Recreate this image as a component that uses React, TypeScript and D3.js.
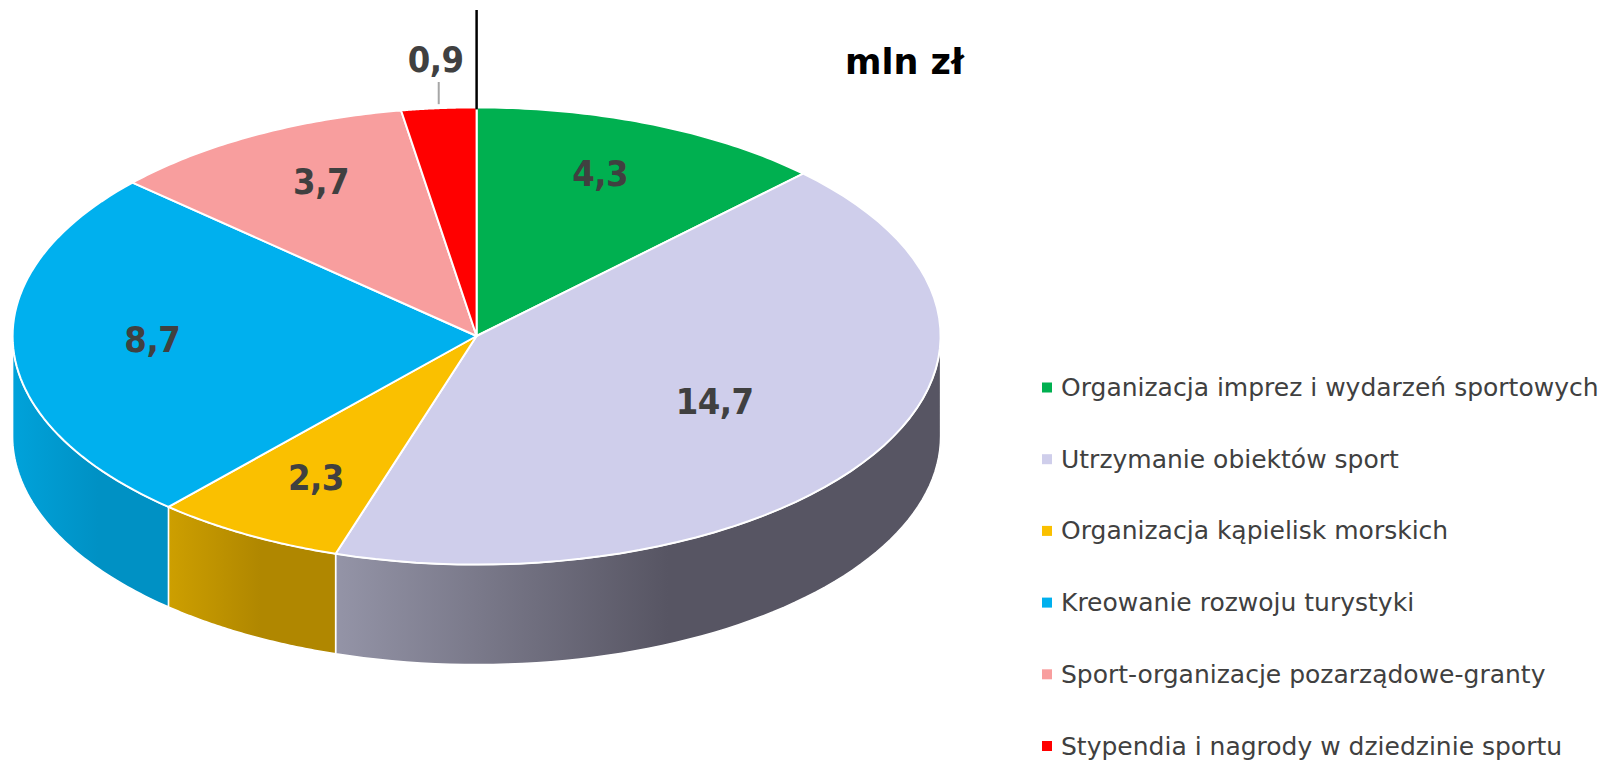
import React from 'react';
import * as d3 from 'd3';

// expenditure shares, mln zł
const categories = [
  'Organizacja imprez i wydarzeń sportowych',
  'Utrzymanie obiektów sport',
  'Organizacja kąpielisk morskich',
  'Kreowanie rozwoju turystyki',
  'Sport-organizacje pozarządowe-granty',
  'Stypendia i nagrody w dziedzinie sportu',
];
const values = [4.3, 14.7, 2.3, 8.7, 3.7, 0.9];
const valueLabels = ['4,3', '14,7', '2,3', '8,7', '3,7', '0,9'];
const topColors = ['#00b050', '#cfceeb', '#fac000', '#00b0ee', '#f89e9e', '#ff0000'];
const sideStops = [
  ['#00954a', '#00803f'],
  ['#9494a7', '#575563'],
  ['#cd9f00', '#b08700'],
  ['#00a2da', '#0091c4'],
  ['#d98a8a', '#c87a7a'],
  ['#d00000', '#b00000'],
];
const unitLabel = 'mln zł';

const W = 1607;
const H = 761;
const cx = 476.6;
const cy = 336;
const rx = 464;
const ry = 228.6;
const depth = 100;
const condensed = '"DejaVu Sans Condensed", "DejaVu Sans", sans-serif';
const regular = '"DejaVu Sans", sans-serif';

// angle measured clockwise from 12 o'clock
const px = (a: number, f = 1) => cx + rx * f * Math.sin(a);
const py = (a: number, f = 1) => cy - ry * f * Math.cos(a);

const App = () => {
  const pie = d3.pie<number>().sort(null).value(d => d)(values);

  const topPath = (a0: number, a1: number) => {
    const steps = d3.range(0, 61).map(i => a0 + ((a1 - a0) * i) / 60);
    const line = d3.line<number>().x(a => px(a)).y(a => py(a));
    return `M${cx},${cy}L` + line(steps)!.slice(1) + 'Z';
  };

  const sidePath = (a0: number, a1: number) => {
    const s = Math.max(a0, Math.PI / 2);
    const e = Math.min(a1, (3 * Math.PI) / 2);
    if (e <= s) return null;
    const steps = d3.range(0, 61).map(i => s + ((e - s) * i) / 60);
    const pts: [number, number][] = [
      ...steps.map(a => [px(a), py(a)] as [number, number]),
      ...steps.slice().reverse().map(a => [px(a), py(a) + depth] as [number, number]),
    ];
    return d3.line()(pts) + 'Z';
  };

  // label spot: big slices pull labels inwards
  const labelPos = (a0: number, a1: number) => {
    const m = (a0 + a1) / 2;
    const big = a1 - a0 > (2 * Math.PI) / 3;
    const fx = big ? 0.6 : 0.7;
    const fy = big ? 0.6 : 0.74;
    return [px(m, fx), py(m, fy) - 6];
  };

  const legendX = 1047;
  const legendY0 = 387.5;
  const legendStep = 71.7;

  return (
    <svg width={W} height={H} style={{ position: 'absolute', left: 0, top: 0, background: '#fff' }}>
      <defs>
        {sideStops.map((s, i) => (
          <linearGradient key={i} id={`side${i}`} x1="0" x2="1" y1="0" y2="0">
            <stop offset="0" stopColor={s[0]} />
            <stop offset="0.55" stopColor={s[1]} />
            <stop offset="1" stopColor={s[1]} />
          </linearGradient>
        ))}
      </defs>

      {pie.map((p, i) => {
        const d = sidePath(p.startAngle, p.endAngle);
        return d ? <path key={`s${i}`} d={d} fill={`url(#side${i})`} stroke="#fff" strokeWidth={1.5} /> : null;
      })}

      {pie.map((p, i) => (
        <path key={`t${i}`} d={topPath(p.startAngle, p.endAngle)} fill={topColors[i]} stroke="#fff" strokeWidth={2} strokeLinejoin="round" />
      ))}

      {pie.map((p, i) => {
        if (i === pie.length - 1) return null;
        const [x, y] = labelPos(p.startAngle, p.endAngle);
        return (
          <text key={`l${i}`} x={x} y={y} textAnchor="middle" dominantBaseline="central"
            fontFamily={condensed} fontWeight="bold" fontSize={36} letterSpacing={-0.5} fill="#404040">
            {valueLabels[i]}
          </text>
        );
      })}

      {/* small slice label outside, with leader */}
      {(() => {
        const p = pie[pie.length - 1];
        const m = (p.startAngle + p.endAngle) / 2;
        const x0 = px(m);
        return (
          <g>
            <line x1={x0} x2={x0} y1={py(m) - 4} y2={82} stroke="#a6a6a6" strokeWidth={2} />
            <text x={x0 - 3} y={59} textAnchor="middle" dominantBaseline="central"
              fontFamily={condensed} fontWeight="bold" fontSize={36} letterSpacing={-0.5} fill="#404040">
              {valueLabels[pie.length - 1]}
            </text>
          </g>
        );
      })()}

      <line x1={cx} x2={cx} y1={10} y2={py(0) + 2} stroke="#000" strokeWidth={2.5} />

      <text x={845} y={74} fontFamily={regular} fontWeight="bold" fontSize={35} fill="#000">
        {unitLabel}
      </text>

      {categories.map((c, i) => (
        <g key={`g${i}`} transform={`translate(${legendX},${legendY0 + i * legendStep})`}>
          <rect x={-5} y={-5} width={10} height={10} fill={topColors[i]} />
          <text x={14} y={0} dominantBaseline="central" fontFamily={regular} fontSize={25} fill="#404040">
            {c}
          </text>
        </g>
      ))}
    </svg>
  );
};

export default App;
